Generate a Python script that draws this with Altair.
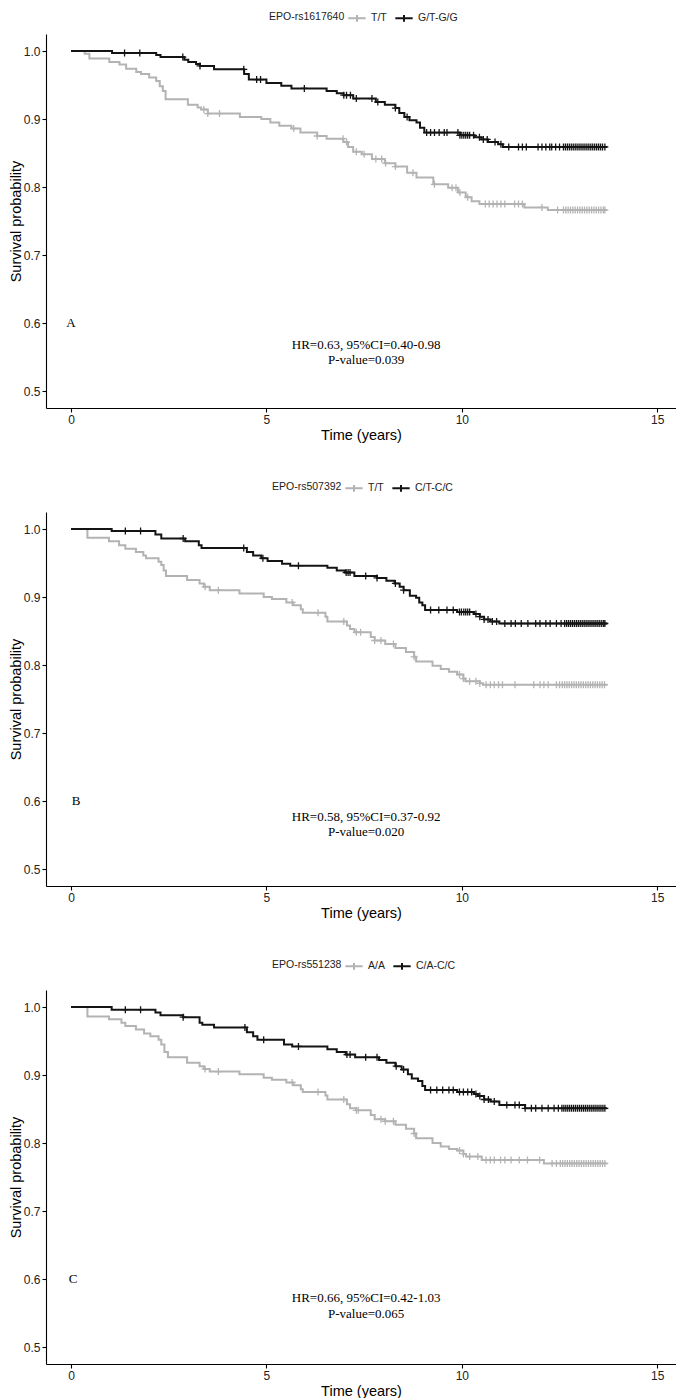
import altair as alt
import pandas as pd

END_T = 13.72
GREY = "#b3b3b3"
BLACK = "#141414"
PLUS = "M-1,0H1M0,-1V1"
LEG_PLUS = "M-1,0H1M0,-0.38V0.38"

# ---------------- Panel A ----------------
a_title = "EPO-rs1617640"
a_groups = ["T/T", "G/T-G/G"]
a_t_grey = [0, 0.35, 0.47, 0.98, 1.24, 1.41, 1.67, 1.79, 2.00, 2.18, 2.27, 2.35, 2.42, 2.99, 3.24, 3.33, 3.50,
            4.32, 4.87, 5.10, 5.33, 5.64, 5.87, 6.30, 6.54, 6.97, 7.09, 7.22, 7.44, 7.70, 8.03, 8.30, 8.60,
            8.84, 9.27, 9.65, 9.90, 10.10, 10.25, 10.45, 11.60, 12.20]
a_s_grey = [1.000, 0.996, 0.989, 0.984, 0.980, 0.974, 0.969, 0.966, 0.961, 0.956, 0.948, 0.941, 0.929, 0.921,
            0.917, 0.914, 0.908, 0.903, 0.900, 0.895, 0.890, 0.886, 0.880, 0.875, 0.871, 0.866, 0.859, 0.852,
            0.848, 0.841, 0.835, 0.830, 0.821, 0.814, 0.804, 0.799, 0.792, 0.785, 0.779, 0.775, 0.770, 0.766]
a_t_black = [0, 1.05, 2.18, 2.29, 2.90, 3.00, 3.20, 3.30, 3.66, 4.43, 4.55, 5.00, 5.38, 5.64, 6.54, 6.80, 6.97,
             7.22, 7.80, 8.03, 8.30, 8.40, 8.53, 8.66, 8.84, 8.93, 9.04, 9.95, 10.33, 10.50, 10.67, 10.93, 11.05]
a_s_black = [1.000, 0.997, 0.994, 0.991, 0.987, 0.984, 0.981, 0.978, 0.973, 0.966, 0.958, 0.953, 0.949, 0.945,
             0.941, 0.938, 0.935, 0.930, 0.925, 0.921, 0.916, 0.909, 0.903, 0.898, 0.895, 0.887, 0.880, 0.876,
             0.873, 0.870, 0.866, 0.863, 0.859]
a_c_grey = [3.40, 3.50, 3.80, 5.70, 6.30, 6.96, 7.05, 7.30, 7.50, 7.80, 7.95, 8.05, 8.30, 8.75, 9.30, 9.75,
            9.85, 9.95, 10.15, 10.60, 10.70, 10.80, 10.90, 11.00, 11.10, 11.35, 11.45, 11.55, 12.05, 12.45,
            12.60, 12.66, 12.72, 12.78, 12.84, 12.90, 12.96, 13.02, 13.08, 13.14, 13.20, 13.26, 13.32, 13.38,
            13.44, 13.50, 13.56, 13.62, 13.66]
a_c_black = [1.37, 1.76, 2.86, 3.30, 4.42, 4.75, 4.85, 5.97, 6.98, 7.05, 7.15, 7.30, 7.70, 7.85, 8.30, 8.60,
             9.10, 9.20, 9.30, 9.42, 9.55, 9.62, 9.90, 9.95, 10.00, 10.05, 10.10, 10.15, 10.20, 10.30, 10.45,
             10.55, 10.65, 10.85, 11.00, 11.20, 11.45, 11.55, 11.65, 11.95, 12.05, 12.15, 12.25, 12.30, 12.40,
             12.50, 12.60, 12.65, 12.70, 12.75, 12.80, 12.85, 12.90, 12.95, 13.00, 13.05, 13.10, 13.15, 13.20,
             13.25, 13.30, 13.35, 13.40, 13.45, 13.50, 13.55, 13.60, 13.66]
a_letter = ("A", 0.0, 0.600)
a_hr = ["HR=0.63, 95%CI=0.40-0.98", "P-value=0.039"]
a_hr_y = [0.568, 0.546]

# ---------------- Panel B ----------------
b_title = "EPO-rs507392"
b_groups = ["T/T", "C/T-C/C"]
b_t_grey = [0, 0.42, 0.97, 1.23, 1.39, 1.66, 1.85, 1.92, 2.24, 2.31, 2.37, 2.43, 2.97, 3.29, 3.40, 3.55, 4.31,
            4.93, 5.14, 5.51, 5.69, 5.88, 5.93, 6.51, 6.56, 7.06, 7.14, 7.25, 7.67, 7.77, 8.04, 8.30, 8.57,
            8.78, 8.83, 9.25, 9.46, 9.67, 9.88, 10.04, 10.09, 10.46, 10.54]
b_s_grey = [1.000, 0.987, 0.982, 0.976, 0.971, 0.966, 0.961, 0.957, 0.952, 0.947, 0.939, 0.931, 0.925, 0.920,
            0.915, 0.910, 0.905, 0.900, 0.897, 0.892, 0.888, 0.882, 0.877, 0.871, 0.864, 0.858, 0.853, 0.848,
            0.841, 0.836, 0.831, 0.825, 0.819, 0.812, 0.805, 0.799, 0.794, 0.790, 0.786, 0.780, 0.776, 0.773,
            0.771]
b_t_black = [0, 1.04, 2.16, 2.31, 2.92, 3.27, 3.34, 4.50, 4.66, 4.87, 5.03, 5.40, 5.61, 6.56, 6.80, 7.01, 7.25,
             7.83, 8.07, 8.28, 8.41, 8.51, 8.67, 8.83, 8.91, 8.99, 9.06, 9.88, 10.31, 10.46, 10.57, 10.73, 10.96]
b_s_black = [1.000, 0.997, 0.992, 0.986, 0.982, 0.976, 0.972, 0.966, 0.961, 0.957, 0.953, 0.949, 0.946, 0.943,
             0.939, 0.936, 0.931, 0.928, 0.924, 0.920, 0.915, 0.910, 0.902, 0.899, 0.892, 0.888, 0.881, 0.878,
             0.875, 0.871, 0.867, 0.864, 0.861]
b_c_grey = [3.43, 3.77, 5.66, 6.32, 6.98, 7.30, 7.41, 7.77, 7.93, 8.25, 8.78, 9.94, 10.04, 10.20, 10.36, 10.46,
            10.62, 10.73, 10.83, 10.94, 11.04, 11.36, 11.84, 12.00, 12.10, 12.21, 12.42, 12.50, 12.57, 12.63,
            12.69, 12.75, 12.81, 12.87, 12.93, 12.99, 13.05, 13.11, 13.17, 13.23, 13.29, 13.35, 13.41, 13.47,
            13.53, 13.59, 13.65]
b_c_black = [1.39, 1.78, 2.87, 4.42, 4.91, 5.82, 7.04, 7.09, 7.14, 7.54, 7.83, 8.30, 8.51, 9.20, 9.41, 9.62,
             9.78, 9.94, 9.99, 10.05, 10.10, 10.15, 10.20, 10.36, 10.46, 10.57, 10.67, 10.78, 10.89, 11.10, 11.26,
             11.37, 11.52, 11.69, 11.89, 12.00, 12.15, 12.26, 12.42, 12.54, 12.63, 12.68, 12.73, 12.78, 12.83,
             12.88, 12.93, 12.98, 13.03, 13.08, 13.13, 13.18, 13.23, 13.28, 13.33, 13.38, 13.43, 13.48, 13.53,
             13.58, 13.63, 13.66]
b_letter = ("B", 0.13, 0.600)
b_hr = ["HR=0.58, 95%CI=0.37-0.92", "P-value=0.020"]
b_hr_y = [0.576, 0.554]

# ---------------- Panel C ----------------
c_title = "EPO-rs551238"
c_groups = ["A/A", "C/A-C/C"]
c_t_grey = [0, 0.42, 0.97, 1.29, 1.39, 1.66, 1.87, 2.03, 2.24, 2.31, 2.39, 2.48, 2.97, 3.29, 3.40, 3.55, 4.31,
            4.93, 5.14, 5.51, 5.69, 5.88, 5.93, 6.51, 6.56, 7.06, 7.14, 7.30, 7.67, 7.77, 8.04, 8.30, 8.57,
            8.78, 8.83, 9.25, 9.46, 9.67, 9.88, 10.04, 10.11, 10.51, 12.10]
c_s_grey = [1.000, 0.986, 0.982, 0.977, 0.972, 0.967, 0.961, 0.957, 0.952, 0.945, 0.934, 0.926, 0.918, 0.913,
            0.909, 0.905, 0.901, 0.896, 0.893, 0.889, 0.885, 0.879, 0.875, 0.870, 0.864, 0.857, 0.851, 0.848,
            0.841, 0.835, 0.832, 0.827, 0.821, 0.814, 0.807, 0.800, 0.795, 0.791, 0.789, 0.784, 0.780, 0.775,
            0.770]
c_t_black = [0, 1.04, 2.16, 2.29, 2.87, 3.29, 3.36, 3.66, 4.50, 4.66, 4.77, 5.45, 5.66, 6.56, 6.80, 7.03, 7.27,
             7.88, 8.07, 8.30, 8.46, 8.62, 8.72, 8.88, 8.99, 9.06, 9.88, 10.31, 10.41, 10.57, 10.73, 10.96, 11.62]
c_s_black = [1.000, 0.996, 0.992, 0.988, 0.985, 0.977, 0.974, 0.970, 0.963, 0.957, 0.952, 0.945, 0.942, 0.938,
             0.934, 0.930, 0.926, 0.922, 0.918, 0.913, 0.908, 0.901, 0.895, 0.891, 0.884, 0.878, 0.875, 0.872,
             0.869, 0.864, 0.861, 0.856, 0.851]
c_c_grey = [3.43, 3.77, 5.66, 6.32, 6.98, 7.30, 7.35, 7.93, 8.04, 8.25, 8.78, 9.94, 10.04, 10.20, 10.41, 10.62,
            10.73, 10.83, 10.99, 11.10, 11.26, 11.47, 11.68, 11.99, 12.31, 12.42, 12.52, 12.58, 12.64, 12.70,
            12.76, 12.82, 12.88, 12.94, 13.00, 13.06, 13.12, 13.18, 13.24, 13.30, 13.36, 13.42, 13.48, 13.54,
            13.60, 13.66]
c_c_black = [1.39, 1.78, 2.87, 4.45, 4.93, 5.82, 7.06, 7.14, 7.54, 7.83, 8.32, 8.51, 9.20, 9.36, 9.51, 9.67,
             9.78, 9.94, 10.04, 10.15, 10.25, 10.36, 10.46, 10.57, 10.68, 10.83, 11.15, 11.36, 11.47, 11.62, 11.78,
             11.89, 12.05, 12.21, 12.36, 12.47, 12.56, 12.61, 12.66, 12.71, 12.76, 12.81, 12.86, 12.91, 12.96,
             13.01, 13.06, 13.11, 13.16, 13.21, 13.26, 13.31, 13.36, 13.41, 13.46, 13.51, 13.56, 13.61, 13.66]
c_letter = ("C", 0.05, 0.600)
c_hr = ["HR=0.66, 95%CI=0.42-1.03", "P-value=0.065"]
c_hr_y = [0.572, 0.549]

HR_X = 7.55


def surv_at(ts, ss, t):
    idx = 0
    for i, v in enumerate(ts):
        if v <= t:
            idx = i
    return ss[idx]


def panel(title, groups, tg, sg, tb, sb, cg, cb, letter, hr, hr_y, leg_x, leg_y):
    rows = []
    for grp, ts, ss in ((groups[0], tg, sg), (groups[1], tb, sb)):
        for i, (t, s) in enumerate(zip(ts + [END_T], ss + [ss[-1]])):
            rows.append({"time": t, "surv": s, "group": grp, "k": i})
    curves = pd.DataFrame(rows)
    crow = []
    for grp, cs, ts, ss in ((groups[0], cg, tg, sg), (groups[1], cb, tb, sb)):
        for c in cs:
            crow.append({"time": c, "surv": surv_at(ts, ss, c), "group": grp})
    cens = pd.DataFrame(crow)

    xs = alt.Scale(domain=[-0.64, 15.48], nice=False, zero=False)
    ys = alt.Scale(domain=[0.475, 1.025], nice=False, zero=False)
    xax = alt.Axis(values=[0, 5, 10, 15], title="Time (years)", grid=False, labelPadding=2, titlePadding=3)
    yax = alt.Axis(values=[0.5, 0.6, 0.7, 0.8, 0.9, 1.0], format=".1f", title="Survival probability",
                   grid=False, labelPadding=2, titlePadding=0)
    cscale = alt.Scale(domain=groups, range=[GREY, BLACK])
    leg = alt.Legend(title=title, orient="none", legendX=leg_x, legendY=leg_y, direction="horizontal",
                     titleOrient="left", symbolType=LEG_PLUS, symbolSize=300, symbolStrokeWidth=2,
                     labelFontSize=10.5, titleFontSize=10.5, titleFontWeight="normal", titlePadding=2,
                     labelOffset=4, columnPadding=4, padding=0, titleFont="Liberation Sans",
                     labelFont="Liberation Sans", labelColor="#222222", titleColor="#222222")

    lines = alt.Chart(curves).mark_line(interpolate="step-after", strokeWidth=2).encode(
        x=alt.X("time:Q", scale=xs, axis=xax),
        y=alt.Y("surv:Q", scale=ys, axis=yax),
        color=alt.Color("group:N", scale=cscale, legend=leg),
        order="k:Q",
    )
    pts = alt.Chart(cens).mark_point(shape=PLUS, filled=False, size=49, strokeWidth=1.3, opacity=1).encode(
        x=alt.X("time:Q", scale=xs),
        y=alt.Y("surv:Q", scale=ys),
        color=alt.Color("group:N", scale=cscale, legend=leg),
    )
    ldf = pd.DataFrame({"x": [letter[1]], "y": [letter[2]], "label": [letter[0]]})
    let = alt.Chart(ldf).mark_text(font="Liberation Serif", fontSize=13, color="black").encode(
        x=alt.X("x:Q", scale=xs), y=alt.Y("y:Q", scale=ys), text="label:N")
    hdf = pd.DataFrame({"x": [HR_X, HR_X], "y": hr_y, "label": hr})
    hrt = alt.Chart(hdf).mark_text(font="Liberation Serif", fontSize=13, color="black").encode(
        x=alt.X("x:Q", scale=xs), y=alt.Y("y:Q", scale=ys), text="label:N")
    return alt.layer(lines, pts, let, hrt).properties(width=630, height=374)


pa = panel(a_title, a_groups, a_t_grey, a_s_grey, a_t_black, a_s_black, a_c_grey, a_c_black,
           a_letter, a_hr, a_hr_y, 223, -26)
pb = panel(b_title, b_groups, b_t_grey, b_s_grey, b_t_black, b_s_black, b_c_grey, b_c_black,
           b_letter, b_hr, b_hr_y, 226, -34)
pc = panel(c_title, c_groups, c_t_grey, c_s_grey, c_t_black, c_s_black, c_c_grey, c_c_black,
           c_letter, c_hr, c_hr_y, 226, -34)

chart = alt.vconcat(pa, pb, pc, spacing=104, bounds="flush").resolve_scale(
    color="independent").resolve_legend(color="independent").properties(padding=0).configure(
    font="Liberation Sans").configure_view(stroke=None).configure_axis(
    labelFont="Liberation Sans", labelFontSize=12, labelColor="#222222",
    titleFont="Liberation Sans", titleFontSize=14.5, titleFontWeight="normal", titleColor="black",
    domainColor="black", domainWidth=1.1, tickColor="black", tickWidth=1.1, tickSize=4)

chart.save("out.html", embed_options={"renderer": "svg", "actions": False})
